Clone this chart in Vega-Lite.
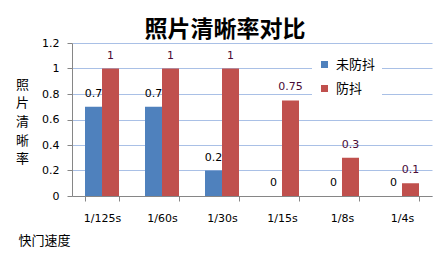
{
  "$schema": "https://vega.github.io/schema/vega-lite/v6.json",
  "width": 360,
  "height": 153,
  "autosize": {"type": "none"},
  "padding": {"left": 72, "top": 43, "right": 16, "bottom": 76},
  "background": "white",
  "title": {
    "text": "照片清晰率对比",
    "font": "Noto Sans CJK SC",
    "fontSize": 23,
    "fontWeight": "bold",
    "color": "#000000",
    "anchor": "middle",
    "dx": -27,
    "offset": -5
  },
  "data": {
    "values": [
      {"cat": "1/125s", "s": "未防抖", "v": 0.7},
      {"cat": "1/125s", "s": "防抖", "v": 1},
      {"cat": "1/60s", "s": "未防抖", "v": 0.7},
      {"cat": "1/60s", "s": "防抖", "v": 1},
      {"cat": "1/30s", "s": "未防抖", "v": 0.2},
      {"cat": "1/30s", "s": "防抖", "v": 1},
      {"cat": "1/15s", "s": "未防抖", "v": 0},
      {"cat": "1/15s", "s": "防抖", "v": 0.75},
      {"cat": "1/8s", "s": "未防抖", "v": 0},
      {"cat": "1/8s", "s": "防抖", "v": 0.3},
      {"cat": "1/4s", "s": "未防抖", "v": 0},
      {"cat": "1/4s", "s": "防抖", "v": 0.1}
    ]
  },
  "encoding": {
    "x": {
      "field": "cat",
      "type": "nominal",
      "sort": null,
      "scale": {"paddingInner": 0.433, "paddingOuter": 0.2167},
      "axis": {
        "title": "快门速度",
        "titleFont": "Noto Sans CJK SC",
        "titleFontSize": 13,
        "titleFontWeight": "normal",
        "titleColor": "#000000",
        "titleAlign": "left",
        "titleBaseline": "middle",
        "titleAnchor": null,
        "titleX": -54,
        "titleY": 44,
        "labelAngle": 0,
        "labelFont": "DejaVu Sans",
        "labelFontSize": 11,
        "labelColor": "#000000",
        "labelPadding": 11,
        "tickSize": 5,
        "tickBand": "extent",
        "tickColor": "#868686",
        "domainColor": "#868686",
        "grid": false
      }
    },
    "xOffset": {"field": "s", "type": "nominal", "sort": ["未防抖", "防抖"], "scale": {"paddingInner": 0, "paddingOuter": 0}},
    "y": {
      "field": "v",
      "type": "quantitative",
      "scale": {"domain": [0, 1.2], "nice": false},
      "axis": {
        "values": [0, 0.2, 0.4, 0.6, 0.8, 1, 1.2],
        "format": "~g",
        "title": ["照", "片", "清", "晰", "率"],
        "titleFont": "Noto Sans CJK SC",
        "titleFontSize": 13,
        "titleFontWeight": "normal",
        "titleColor": "#000000",
        "titleAngle": 0,
        "titleAlign": "center",
        "titleBaseline": "top",
        "titleAnchor": null,
        "titleX": -50,
        "titleY": 35,
        "titleLineHeight": 18.7,
        "labelFont": "DejaVu Sans",
        "labelFontSize": 11,
        "labelColor": "#000000",
        "labelPadding": 8,
        "tickSize": 5,
        "tickColor": "#868686",
        "domainColor": "#868686",
        "grid": true,
        "gridColor": "#a9c0e6",
        "gridWidth": 1
      }
    }
  },
  "layer": [
    {
      "mark": {"type": "bar"},
      "encoding": {
        "color": {
          "field": "s",
          "type": "nominal",
          "sort": ["未防抖", "防抖"],
          "scale": {"domain": ["未防抖", "防抖"], "range": ["#4f81bd", "#c0504d"]},
          "legend": {
            "title": null,
            "orient": "none",
            "legendX": 240,
            "legendY": 9,
            "fillColor": "white",
            "padding": 6,
            "symbolType": "square",
            "symbolSize": 49,
            "symbolStrokeWidth": 0,
            "labelFont": "Noto Sans CJK SC",
            "labelFontSize": 13,
            "labelColor": "#000000",
            "labelOffset": 5,
            "rowPadding": 10
          }
        }
      }
    },
    {
      "mark": {"type": "text", "baseline": "middle", "dy": -13, "font": "DejaVu Sans", "fontSize": 11},
      "encoding": {
        "text": {"field": "v", "type": "quantitative"},
        "color": {"condition": {"test": "datum.s === '防抖'", "value": "#4a0a36"}, "value": "#000000"}
      }
    }
  ],
  "config": {"view": {"stroke": null}}
}
